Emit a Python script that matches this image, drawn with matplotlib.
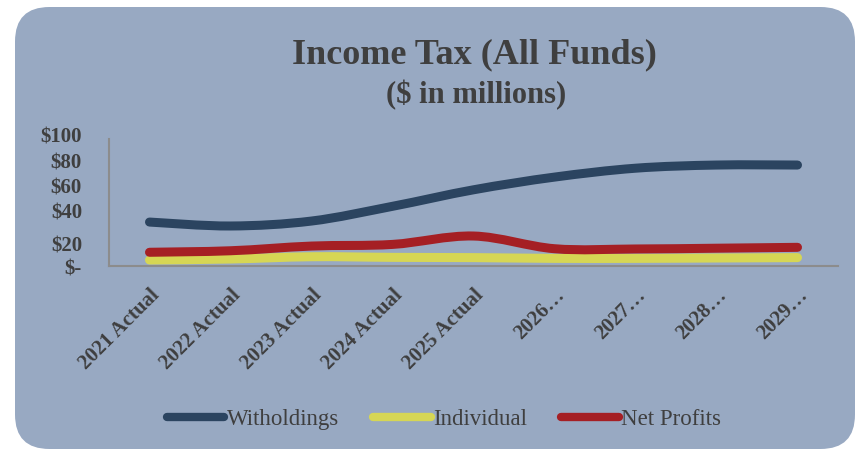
import numpy as np
import matplotlib.pyplot as plt
from matplotlib.path import Path
from matplotlib.patches import PathPatch, FancyBboxPatch
from matplotlib.lines import Line2D

categories = ["2021 Actual", "2022 Actual", "2023 Actual", "2024 Actual", "2025 Actual",
              "2026\u2026", "2027\u2026", "2028\u2026", "2029\u2026"]
withholdings = [34.6, 31.5, 35.4, 47.0, 60.0, 70.0, 77.0, 79.5, 79.5]
individual = [4.7, 5.5, 7.3, 6.8, 6.6, 6.0, 6.0, 6.3, 6.6]
net_profits = [10.8, 12.0, 15.7, 17.0, 23.6, 13.6, 13.4, 14.0, 14.7]

ytick_vals = [101, 81, 61, 41, 15, -3]
ytick_labels = ["$100", "$80", "$60", "$40", "$20", "$-"]

series = [("Witholdings", withholdings, "#2B4460"),
          ("Individual", individual, "#D6D654"),
          ("Net Profits", net_profits, "#A51F24")]

bg = "#98A9C2"
txt = "#3F3F3F"
serif = ["Liberation Serif", "DejaVu Serif"]


def smooth_path(xs, ys):
    # Excel-style smoothed line: Catmull-Rom segments as cubic Beziers
    pts = np.column_stack([xs, ys]).astype(float)
    verts = [pts[0]]
    codes = [Path.MOVETO]
    n = len(pts)
    for i in range(n - 1):
        p0 = pts[i - 1] if i > 0 else pts[i]
        p1, p2 = pts[i], pts[i + 1]
        p3 = pts[i + 2] if i + 2 < n else pts[i + 1]
        c1 = p1 + (p2 - p0) / 6.0
        c2 = p2 - (p3 - p1) / 6.0
        verts += [c1, c2, p2]
        codes += [Path.CURVE4] * 3
    return Path(verts, codes)


fig = plt.figure(figsize=(8.62, 4.54), dpi=100)
fig.patch.set_facecolor("white")
panel = FancyBboxPatch((15 / 862, 5 / 454), 840 / 862, 442 / 454,
                       boxstyle="round,pad=0,rounding_size=0.04",
                       transform=fig.transFigure, facecolor=bg, edgecolor="none",
                       mutation_aspect=862 / 454, zorder=-1)
fig.patches.append(panel)

ax = fig.add_axes([109 / 862, 1 - 266 / 454, (838 - 109) / 862, (266 - 139) / 454])
ax.set_facecolor("none")
x = np.arange(len(categories))
for name, vals, col in series:
    patch = PathPatch(smooth_path(x, vals), facecolor="none", edgecolor=col,
                      lw=6.5, capstyle="round", joinstyle="round")
    ax.add_patch(patch)

ax.set_xlim(-0.5, len(categories) - 0.5)
ax.set_ylim(0, 100)
for s in ["top", "right"]:
    ax.spines[s].set_visible(False)
for s in ["left", "bottom"]:
    ax.spines[s].set_color("#8C8C8C")
    ax.spines[s].set_linewidth(1.5)
ax.set_yticks([])
for v, lab in zip(ytick_vals, ytick_labels):
    ax.text(-0.037, v, lab, transform=ax.get_yaxis_transform(), ha="right", va="center",
            fontsize=15, fontweight="bold", family=serif, color=txt, clip_on=False)
ax.set_xticks(x)
ax.set_xticklabels(categories, rotation=45, ha="right", rotation_mode="anchor",
                   fontsize=15, fontweight="bold", family=serif, color=txt)
ax.tick_params(axis="x", length=0, pad=14)

fig.text(474 / 862, 1 - 55 / 454, "Income Tax (All Funds)", ha="center", va="center",
         fontsize=26, fontweight="bold", family=serif, color=txt)
fig.text(476 / 862, 1 - 95 / 454, "($ in millions)", ha="center", va="center",
         fontsize=22, fontweight="bold", family=serif, color=txt)

handles = [Line2D([0], [0], color=col, lw=6, solid_capstyle="round") for _, _, col in series]
leg = fig.legend(handles, [s[0] for s in series], loc="center", bbox_to_anchor=(444 / 862, 1 - 419 / 454),
                 ncol=3, frameon=False, handlelength=2.5, handletextpad=0.1, columnspacing=1.5,
                 prop={"family": serif, "size": 16.5})
for t in leg.get_texts():
    t.set_color(txt)

fig.savefig("out.png", dpi=100)
